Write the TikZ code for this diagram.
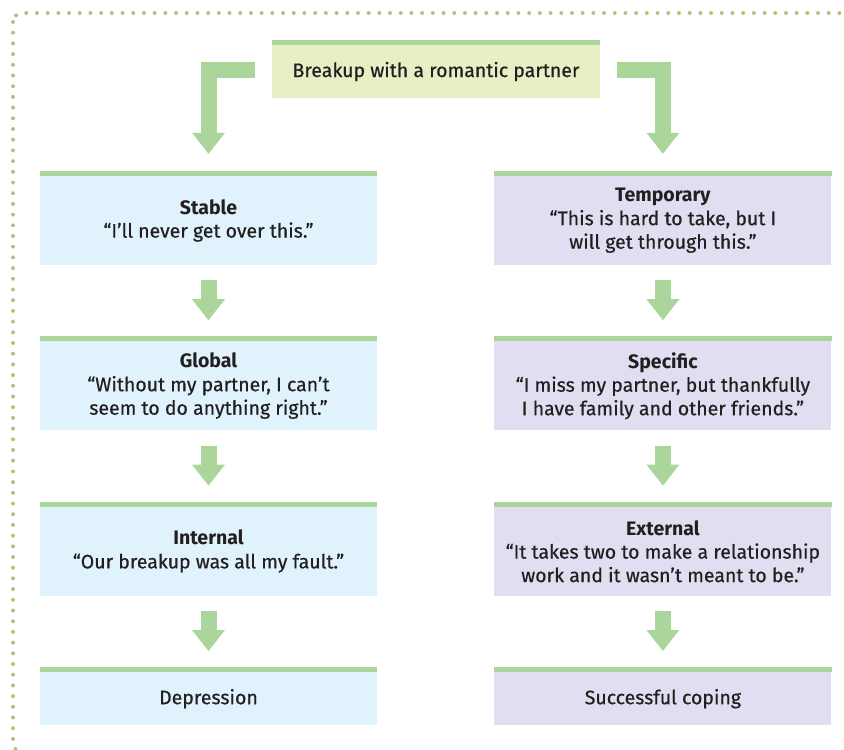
\documentclass[tikz,border=0pt]{standalone}
\usepackage{fontspec}
\setmainfont{Fira Sans}[UprightFeatures={FakeBold=0.5}]
\usepackage{tikz}
\usetikzlibrary{arrows.meta, positioning, calc}
\definecolor{bandgreen}{RGB}{170,214,155}
\definecolor{topfill}{RGB}{230,240,196}
\definecolor{bluefill}{RGB}{224,242,252}
\definecolor{lilacfill}{RGB}{224,222,240}
\definecolor{dotkhaki}{RGB}{193,187,128}
\definecolor{textgray}{RGB}{35,31,32}

\begin{document}
\begin{tikzpicture}[
        x=1pt, y=1pt,
        node distance=76pt and 117pt,
        box/.style={rectangle, minimum width=337pt, minimum height=89pt, inner sep=0pt, align=center, text=textgray, font=\fontsize{19.5}{23.5}\selectfont,
            append after command={\pgfextra{\fill[bandgreen] (\tikzlastnode.north west) rectangle ([yshift=5pt]\tikzlastnode.north east);}}},
        stablebox/.style={box, fill=bluefill},
        tempbox/.style={box, fill=lilacfill},
        endbox/.style={minimum height=53pt},
        fat/.style={draw=bandgreen, line width=16pt, -{Triangle[width=33pt, length=21pt, line width=0pt]}}
    ]
        \useasboundingbox (0,0) rectangle (844,-750);
        \draw[dotkhaki, line width=4pt, line cap=round, dash pattern=on 0pt off 10.7pt, rounded corners=9pt] (13,-13) rectangle (880,-752);

        \node[box, fill=topfill, minimum width=328pt, minimum height=53pt] (breakup) at (436,-71.5) {Breakup with a romantic partner};

        % pessimistic side
        \node[stablebox] (stable) at (208.5,-220.5) {\textbf{Stable}\\“I’ll never get over this.”};
        \node[stablebox, below=of stable] (global) {\textbf{Global}\\“Without my partner, I can’t\\seem to do anything right.”};
        \node[stablebox, below=of global] (internal) {\textbf{Internal}\\“Our breakup was all my fault.”};
        \node[stablebox, endbox, below=of internal] (depression) {Depression};

        % optimistic side
        \node[tempbox, right=of stable] (temporary) {\textbf{Temporary}\\“This is hard to take, but I\\will get through this.”};
        \node[tempbox, below=of temporary] (specific) {\textbf{Specific}\\“I miss my partner, but thankfully\\I have family and other friends.”};
        \node[tempbox, below=of specific] (external) {\textbf{External}\\“It takes two to make a relationship\\work and it wasn’t meant to be.”};
        \node[tempbox, endbox, below=of external] (coping) {Successful coping};

        \draw[fat] ([shift={(-17pt,1.5pt)}]breakup.west) -| ([yshift=22pt]stable.north);
        \draw[fat] ([shift={(17pt,1.5pt)}]breakup.east) -| ([yshift=22pt]temporary.north);
        \draw[fat] ([yshift=-15pt]stable.south) -- ([yshift=21pt]global.north);
        \draw[fat] ([yshift=-15pt]global.south) -- ([yshift=21pt]internal.north);
        \draw[fat] ([yshift=-15pt]internal.south) -- ([yshift=21pt]depression.north);
        \draw[fat] ([yshift=-15pt]temporary.south) -- ([yshift=21pt]specific.north);
        \draw[fat] ([yshift=-15pt]specific.south) -- ([yshift=21pt]external.north);
        \draw[fat] ([yshift=-15pt]external.south) -- ([yshift=21pt]coping.north);
    \end{tikzpicture}
\end{document}
